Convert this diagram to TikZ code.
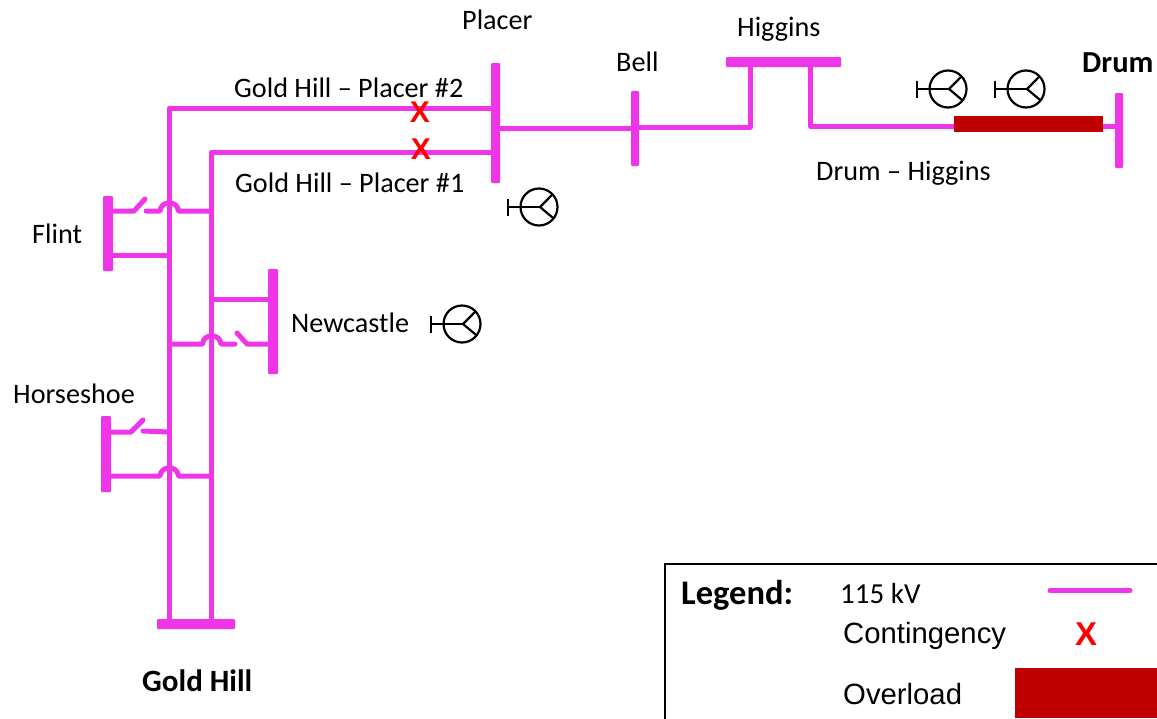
\documentclass[tikz,border=0pt]{standalone}
\usepackage{fontspec}
\setmainfont{Carlito}
\newfontfamily\arialf{Liberation Sans}
\definecolor{linemag}{HTML}{EE36E8}
\definecolor{overred}{HTML}{C00000}
\newcommand{\gensym}[3]{%
  \node[gencirc] (#1) at (#2,#3) {};
  \coordinate (#1t) at (#2-31,#3);
  \coordinate (#1j) at (#2+1,#3);
  \draw[genline] (#1t) -- (#1j);
  \draw[genline] ([yshift=8.5pt]#1t) -- ([yshift=-8.5pt]#1t);
  \draw[genline] (#1j) -- (#1.43);
  \draw[genline] (#1j) -- (#1.-38);
}
\tikzset{
  x=1pt,y=-1pt,
  lne/.style={draw=linemag,line width=5pt,line cap=round,line join=round},
  busbar/.style={fill=linemag,draw=none,rounded corners=1pt,inner sep=0pt,outer sep=0pt,minimum width=#1},
  gencirc/.style={circle,draw=black,line width=2.2pt,minimum size=37pt,inner sep=0pt,outer sep=0pt},
  genline/.style={draw=black,line width=2.2pt},
  lbl/.style={anchor=base west,inner sep=0pt,font=\fontsize{28.2}{32}\selectfont,text=black},
  blbl/.style={anchor=base west,inner sep=0pt,font=\fontsize{30.5}{34}\selectfont\bfseries,text=black},
  xmark/.style={inner sep=0pt,font=\arialf\fontsize{30}{30}\selectfont\bfseries,text=red},
  alb/.style={anchor=base west,inner sep=0pt,font=\arialf\fontsize{29.3}{32}\selectfont,text=black},
  overbox/.style={fill=overred,draw=none,inner sep=0pt,outer sep=0pt},
}
\begin{document}
\begin{tikzpicture}
\useasboundingbox (0,0) rectangle (1157,718);
% buses
\node[busbar=78pt,minimum height=10pt] (goldhill) at (196,624) {};
\node[busbar=9pt,minimum height=120pt] (placer) at (495.5,123) {};
\node[busbar=8pt,minimum height=75pt] (bell) at (635,128.5) {};
\node[busbar=115pt,minimum height=10pt] (higgins) at (783.5,62) {};
\node[busbar=8pt,minimum height=75pt] (drum) at (1119,130.5) {};
\node[busbar=10pt,minimum height=75pt] (flint) at (108,233.5) {};
\node[busbar=10pt,minimum height=105pt] (newcastle) at (273,321.5) {};
\node[busbar=10pt,minimum height=76pt] (horseshoe) at (106,454) {};
% main lines
\coordinate (c2) at (169.5,108);
\coordinate (c1) at (211.5,152);
\draw[lne] (goldhill.north -| c2) -- (c2) -- (c2 -| placer.west);
\draw[lne] (goldhill.north -| c1) -- (c1) -- (c1 -| placer.west);
\coordinate (pb) at (565,128);
\draw[lne] (pb -| placer.east) -- (pb -| bell.west);
\coordinate (h1) at (750,127);
\coordinate (h2) at (810.5,126.5);
\draw[lne] (h1 -| bell.east) -- (h1) -- (h1 |- higgins.south);
\draw[lne] (h2 |- higgins.south) -- (h2) -- (h2 -| drum.west);
% Flint
\coordinate (f1) at (134,211);
\coordinate (f2) at (145,199);
\coordinate (f3) at (146,211);
\coordinate (f4) at (160,211);
\coordinate (f5) at (178.5,211);
\draw[lne] (f1 -| flint.east) -- (f1) -- (f2);
\draw[lne] (f3) -- (f4) .. controls (161,200) and (177.5,200) .. (f5) -- (f5 -| c1);
\coordinate (f6) at (140,255.5);
\draw[lne] (f6 -| flint.east) -- (f6 -| c2);
% Newcastle
\coordinate (n0) at (240,299);
\draw[lne] (n0 -| c1) -- (n0 -| newcastle.west);
\coordinate (n1) at (202.5,344);
\coordinate (n2) at (221,344);
\coordinate (n3) at (235,344);
\coordinate (n4) at (237,333);
\coordinate (n5) at (247,344);
\draw[lne] (n1 -| c2) -- (n1) .. controls (203.5,333) and (220,333) .. (n2) -- (n3);
\draw[lne] (n4) -- (n5) -- (n5 -| newcastle.west);
% Horseshoe
\coordinate (s1) at (131,432);
\coordinate (s2) at (143,420);
\coordinate (s3) at (143,431);
\coordinate (s4) at (169,432);
\draw[lne] (s1 -| horseshoe.east) -- (s1) -- (s2);
\draw[lne] (s3) -- (s4 -| c2);
\coordinate (s5) at (160,476);
\coordinate (s6) at (178.5,476);
\draw[lne] (s5 -| horseshoe.east) -- (s5) .. controls (161,465) and (177.5,465) .. (s6) -- (s6 -| c1);
% overload on Drum - Higgins
\node[overbox,minimum width=149pt,minimum height=16pt] (over) at (1028.5,124) {};
% generators
\gensym{ga}{948}{89}
\gensym{gb}{1026}{89}
\gensym{gc}{539}{207}
\gensym{gd}{462}{324}
% contingencies
\node[xmark] (x2) at (420,112) {X};
\node[xmark] (x1) at (421,149) {X};
% labels
\node[lbl] (tplacer) at (462,29) {Placer};
\node[lbl] (tbell) at (616,71) {Bell};
\node[lbl] (thiggins) at (737,36) {Higgins};
\node[blbl] (tdrum) at (1082,72) {Drum};
\node[lbl] (tgp2) at (234,97) {Gold Hill – Placer \#2};
\node[lbl] (tgp1) at (235,192) {Gold Hill – Placer \#1};
\node[lbl] (tdh) at (816,180) {Drum – Higgins};
\node[lbl] (tflint) at (32,243) {Flint};
\node[lbl] (tnew) at (291,332) {Newcastle};
\node[lbl] (thorse) at (13,403) {Horseshoe};
\node[blbl,font=\fontsize{31}{34}\selectfont\bfseries] (tgold) at (142,691) {Gold Hill};
% legend
\coordinate (legtl) at (665,564);
\coordinate (legbr) at (1160,722);
\draw[black,line width=2.2pt] (legbr |- legtl) -- (legtl) -- (legtl |- legbr);
\node[blbl,font=\fontsize{34.5}{38}\selectfont\bfseries] (tleg) at (681,604) {Legend:};
\node[lbl,font=\fontsize{29}{32}\selectfont] (t115) at (840,603) {115 kV};
\coordinate (ll1) at (1050,590.5);
\coordinate (ll2) at (1130,590.5);
\draw[lne] (ll1) -- (ll2);
\node[alb] (tcont) at (843,643) {Contingency};
\node[xmark,font=\arialf\fontsize{33}{34}\selectfont\bfseries] (xleg) at (1086,634) {X};
\node[alb] (tover) at (843,704) {Overload};
\node[overbox,minimum width=142pt,minimum height=50pt] (overleg) at (1086,693) {};
\end{tikzpicture}
\end{document}
